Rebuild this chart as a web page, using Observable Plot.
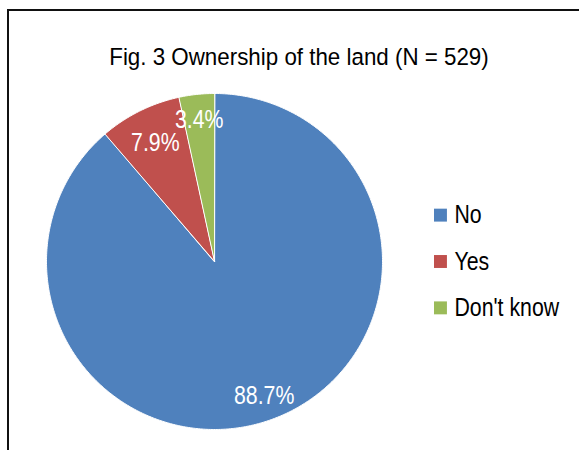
<!DOCTYPE html>
<html>
<head>
<meta charset="utf-8">
<script src="https://cdn.jsdelivr.net/npm/d3@7"></script>
<script src="https://cdn.jsdelivr.net/npm/@observablehq/plot@0.6"></script>
<style>
  html, body { margin: 0; padding: 0; background: #fff; }
  #wrap { position: relative; width: 579px; height: 450px; overflow: hidden; }
  #frame { position: absolute; left: 7px; top: 9px; width: 580px; height: 460px;
           border-left: 2px solid #111; border-top: 2px solid #111; box-sizing: border-box; pointer-events: none; }
  svg { font-family: "Liberation Sans Narrow", "Arial Narrow", "Liberation Sans", Arial, sans-serif; }
</style>
</head>
<body>
<div id="wrap"><div id="frame"></div></div>
<script>
const title = "Fig. 3 Ownership of the land (N = 529)";
const categories = ["No", "Yes", "Don't know"];
const values = [88.7, 7.9, 3.4];
const labels = ["88.7%", "7.9%", "3.4%"];
const colors = ["#4F81BD", "#C0504D", "#9BBB59"];

const arcs = d3.pie().sort(null).value(d => d)(values);

// polygon points for each slice (center + arc sampled)
const slicePts = [];
arcs.forEach((a, i) => {
  const cat = categories[i];
  slicePts.push({cat, x: 0, y: 0});
  const n = Math.max(2, Math.ceil((a.endAngle - a.startAngle) / 0.01));
  for (let k = 0; k <= n; k++) {
    const t = a.startAngle + (a.endAngle - a.startAngle) * k / n;
    slicePts.push({cat, x: Math.sin(t), y: Math.cos(t)});
  }
});

// data labels along each slice's mid-angle (the "Yes" label is nudged inward, as in the original, to avoid overlap)
const labelPts = arcs.map((a, i) => {
  const m = (a.startAngle + a.endAngle) / 2;
  const rr = i === 1 ? 0.79 : 0.85;
  return {label: labels[i], x: rr * Math.sin(m), y: rr * Math.cos(m)};
});

const legend = categories.map((c, i) => ({cat: c, x: 1.345, y: (1 - i) * 0.276}));

const chart = Plot.plot({
  width: 579,
  height: 450,
  marginLeft: 46,
  marginRight: 197,
  marginTop: 93,
  marginBottom: 21,
  x: {domain: [-1, 1], axis: null},
  y: {domain: [-1, 1], axis: null},
  color: {domain: categories, range: colors},
  marks: [
    Plot.line(slicePts, {x: "x", y: "y", z: "cat", fill: "cat", stroke: "white", strokeWidth: 1, curve: "linear-closed"}),
    Plot.text(labelPts, {x: "x", y: "y", text: "label", fill: "white", fontSize: 26}),
    Plot.dot(legend, {x: "x", y: "y", fill: "cat", symbol: "square", r: 7.3, stroke: null}),
    Plot.text(legend, {x: "x", y: "y", text: "cat", dx: 14, textAnchor: "start", fontSize: 26, fill: "#000"}),
    Plot.text([title], {frameAnchor: "top", dx: 84.5, dy: -46, fontSize: 24.5, fill: "#000"})
  ]
});
document.getElementById("wrap").prepend(chart);

// emulate a narrow (condensed) face by compressing glyphs horizontally about the anchor
chart.querySelectorAll("text").forEach(t => {
  const f = t.textContent === title ? 0.913 : 0.82;
  const tr = t.getAttribute("transform");
  if (tr) {
    t.setAttribute("transform", tr + ` scale(${f},1)`);
  } else {
    const x = +(t.getAttribute("x") || 0);
    t.setAttribute("transform", `translate(${x},0) scale(${f},1) translate(${-x},0)`);
  }
});
</script>
</body>
</html>
